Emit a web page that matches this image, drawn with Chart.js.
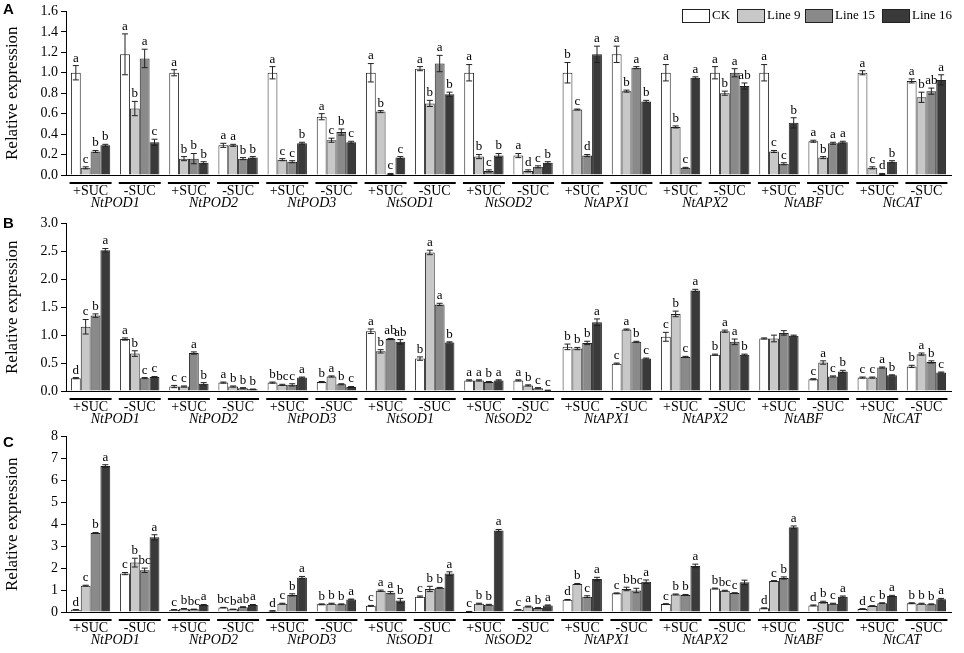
<!DOCTYPE html>
<html><head><meta charset="utf-8">
<script src="https://cdn.jsdelivr.net/npm/chart.js@4"></script>
<style>body{margin:0;background:#fff;width:964px;height:653px;position:relative;overflow:hidden}
canvas{position:absolute;left:0}</style></head><body>
<canvas id="cA" style="top:0"></canvas>
<canvas id="cB" style="top:212px"></canvas>
<canvas id="cC" style="top:425px"></canvas>
<script>
const genes=["NtPOD1","NtPOD2","NtPOD3","NtSOD1","NtSOD2","NtAPX1","NtAPX2","NtABF","NtCAT"];
const treatments=["+SUC","-SUC"];
const categories=[];genes.forEach(g=>treatments.forEach(t=>categories.push(g+" "+t)));
const seriesNames=["CK","Line 9","Line 15","Line 16"];
const colors=["#ffffff","#c8c8c8","#8a8a8a","#3a3a3a"];
// Panel A values, per category: [CK, Line9, Line15, Line16]
const valuesA=[[1.0,0.07,0.23,0.29],[1.18,0.65,1.14,0.32],[1.0,0.16,0.16,0.12],[0.29,0.29,0.16,0.17],
[1.0,0.15,0.13,0.31],[0.57,0.34,0.42,0.32],[1.0,0.62,0.01,0.17],[1.04,0.70,1.09,0.79],
[1.0,0.18,0.04,0.19],[0.19,0.04,0.08,0.12],[1.0,0.64,0.19,1.18],[1.18,0.82,1.05,0.72],
[1.0,0.47,0.07,0.95],[1.0,0.80,1.0,0.87],[1.0,0.23,0.11,0.51],[0.33,0.17,0.31,0.32],
[1.0,0.07,0.01,0.13],[0.92,0.76,0.82,0.93]];
const errA=[[0.07,0.01,0.01,0.01],[0.2,0.07,0.09,0.03],[0.03,0.02,0.05,0.01],[0.02,0.01,0.01,0.01],
[0.06,0.01,0.01,0.01],[0.03,0.02,0.03,0.01],[0.09,0.01,0.005,0.01],[0.02,0.03,0.08,0.02],
[0.08,0.02,0.01,0.02],[0.02,0.01,0.01,0.01],[0.1,0.005,0.01,0.08],[0.08,0.01,0.01,0.01],
[0.08,0.01,0.005,0.01],[0.06,0.02,0.04,0.03],[0.08,0.01,0.01,0.05],[0.01,0.01,0.01,0.01],
[0.02,0.01,0.005,0.01],[0.02,0.05,0.03,0.05]];
const lettersA=[["a","c","b","b"],["a","b","a","c"],["a","b","b","b"],["a","a","b","b"],
["a","c","c","b"],["a","c","b","c"],["a","b","c","c"],["a","b","a","b"],
["a","b","c","b"],["a","d","c","b"],["b","c","d","a"],["a","b","a","b"],
["a","b","c","a"],["a","b","a","ab"],["a","c","c","b"],["a","b","a","a"],
["a","c","d","b"],["a","b","ab","a"]];
const valuesB=[[0.23,1.15,1.35,2.52],[0.93,0.67,0.23,0.25],[0.08,0.08,0.68,0.13],[0.15,0.08,0.05,0.03],
[0.15,0.11,0.11,0.24],[0.16,0.26,0.12,0.07],[1.07,0.71,0.93,0.88],[0.58,2.48,1.55,0.87],
[0.19,0.19,0.16,0.19],[0.19,0.10,0.05,0.01],[0.79,0.76,0.86,1.23],[0.49,1.10,0.88,0.58],
[0.97,1.38,0.61,1.80],[0.65,1.07,0.88,0.65],[0.94,0.94,1.04,0.99],[0.21,0.51,0.26,0.35],
[0.24,0.24,0.42,0.28],[0.44,0.66,0.52,0.33]];
const errB=[[0.01,0.13,0.03,0.03],[0.02,0.05,0.01,0.01],[0.02,0.01,0.02,0.02],[0.01,0.01,0.01,0.005],
[0.01,0.01,0.02,0.01],[0.01,0.01,0.01,0.01],[0.04,0.03,0.01,0.04],[0.03,0.04,0.02,0.01],
[0.01,0.01,0.01,0.01],[0.01,0.01,0.01,0.005],[0.05,0.02,0.03,0.06],[0.01,0.01,0.01,0.01],
[0.08,0.05,0.01,0.02],[0.01,0.02,0.05,0.01],[0.01,0.06,0.04,0.01],[0.01,0.03,0.01,0.02],
[0.01,0.01,0.01,0.01],[0.02,0.02,0.02,0.01]];
const lettersB=[["d","c","b","a"],["a","b","c","c"],["c","c","a","b"],["a","b","b","b"],
["b","bc","c","a"],["b","a","b","c"],["a","b","ab","ab"],["b","a","a","b"],
["a","a","b","a"],["a","b","c","c"],["b","b","b","a"],["c","a","b","c"],
["c","b","c","a"],["b","a","a","b"],["","","",""],["c","a","c","b"],
["c","c","a","b"],["b","a","b","c"]];
const valuesC=[[0.1,1.2,3.6,6.65],[1.75,2.25,1.9,3.4],[0.1,0.15,0.12,0.32],[0.2,0.12,0.22,0.32],
[0.05,0.38,0.78,1.57],[0.35,0.38,0.35,0.57],[0.28,0.97,0.88,0.52],[0.7,1.05,1.1,1.75],
[0.02,0.38,0.33,3.71],[0.1,0.25,0.18,0.3],[0.56,1.28,0.7,1.5],[0.85,1.05,0.98,1.38],
[0.36,0.8,0.78,2.1],[1.07,0.97,0.86,1.35],[0.17,1.41,1.55,3.86],[0.3,0.45,0.38,0.7],
[0.14,0.27,0.4,0.73],[0.4,0.38,0.35,0.58]];
const errC=[[0.01,0.02,0.02,0.06],[0.05,0.2,0.1,0.12],[0.01,0.01,0.01,0.02],[0.01,0.01,0.02,0.02],
[0.01,0.02,0.05,0.05],[0.02,0.02,0.02,0.02],[0.02,0.03,0.05,0.1],[0.03,0.12,0.02,0.08],
[0.005,0.02,0.02,0.05],[0.01,0.02,0.02,0.02],[0.01,0.02,0.04,0.08],[0.02,0.08,0.1,0.08],
[0.02,0.02,0.02,0.08],[0.02,0.02,0.02,0.1],[0.02,0.02,0.05,0.06],[0.02,0.04,0.02,0.03],
[0.01,0.02,0.02,0.03],[0.02,0.02,0.02,0.04]];
const lettersC=[["d","c","b","a"],["c","b","bc","a"],["c","b","bc","a"],["bc","b","ab","a"],
["d","c","b","a"],["b","b","b","a"],["c","a","a","b"],["c","b","b","a"],
["c","b","b","a"],["c","a","b","a"],["d","b","c","a"],["c","b","bc","a"],
["c","b","b","a"],["b","bc","c",""],["d","c","b","a"],["d","b","c","a"],
["d","c","b","a"],["b","b","b","a"]];

const SERIF="'Liberation Serif','DejaVu Serif',serif";
const decor={id:'decor',afterDatasetsDraw(chart,a,opt){
  const ctx=chart.ctx,xs=chart.scales.x,ys=chart.scales.y,ca=chart.chartArea;
  const P=opt.panel;
  ctx.save();ctx.strokeStyle='#222';ctx.lineWidth=1;ctx.fillStyle='#000';
  ctx.font='13px '+SERIF;ctx.textAlign='center';ctx.textBaseline='bottom';
  chart.data.datasets.forEach((ds,di)=>{
    const meta=chart.getDatasetMeta(di);
    meta.data.forEach((bar,ci)=>{
      const v=P.values[ci][di],e=P.err[ci][di];
      const yt=ys.getPixelForValue(v+e),yb=ys.getPixelForValue(Math.max(0,v-e));
      ctx.beginPath();ctx.moveTo(bar.x,yt);ctx.lineTo(bar.x,yb);
      ctx.moveTo(bar.x-3,yt);ctx.lineTo(bar.x+3,yt);ctx.moveTo(bar.x-3,yb);ctx.lineTo(bar.x+3,yb);ctx.stroke();
      const L=P.letters[ci][di];if(L)ctx.fillText(L,bar.x,yt-1);
    });
  });
  ctx.textBaseline='top';ctx.font='14px '+SERIF;
  categories.forEach((c,ci)=>{
    const cx=xs.getPixelForValue(ci);
    ctx.lineWidth=2;ctx.strokeStyle='#000';ctx.beginPath();ctx.moveTo(cx-21,ca.bottom+8);ctx.lineTo(cx+21,ca.bottom+8);ctx.stroke();
    ctx.fillText(treatments[ci%2],cx,ca.bottom+9);
  });
  ctx.font='italic 14px '+SERIF;
  genes.forEach((g,gi)=>{
    const cx=(xs.getPixelForValue(gi*2)+xs.getPixelForValue(gi*2+1))/2;
    ctx.fillText(g,cx,ca.bottom+21);
  });
  ctx.font='bold 15px Arial,"Liberation Sans",sans-serif';ctx.textAlign='left';
  ctx.fillText(opt.tag,3,opt.tagY);
  if(opt.legend){
    const lx=[682,737,805,882];ctx.font='13px '+SERIF;ctx.textBaseline='middle';
    seriesNames.forEach((n,i)=>{ctx.fillStyle=colors[i];ctx.fillRect(lx[i],9,27,13);ctx.lineWidth=1;ctx.strokeStyle='#222';ctx.strokeRect(lx[i]+0.5,9.5,27,13);
      ctx.fillStyle='#000';ctx.fillText(n,lx[i]+30,16);});
  }
  ctx.restore();
}};
function make(id,h,values,err,letters,max,step,dec,padTop,padBot,tag,tagY,legend){
  const cv=document.getElementById(id);cv.style.width='964px';cv.style.height=h+'px';
  return new Chart(cv,{type:'bar',
    data:{labels:categories,datasets:seriesNames.map((n,i)=>({label:n,data:values.map(r=>r[i]),backgroundColor:colors[i],borderColor:'#222',borderWidth:1}))},
    options:{responsive:false,animation:false,devicePixelRatio:1,
      layout:{padding:{top:padTop,bottom:padBot,right:13,left:0}},
      datasets:{bar:{categoryPercentage:0.8,barPercentage:1}},
      plugins:{legend:{display:false},tooltip:{enabled:false},decor:{panel:{values,err,letters},tag,tagY,legend}},
      scales:{
        x:{grid:{display:false},ticks:{display:false},border:{display:true,color:'#000',width:1}},
        y:{min:0,max:max,afterFit(s){s.width=66;},
          ticks:{stepSize:step,color:'#000',font:{family:SERIF,size:14},callback:v=>v.toFixed(dec)},
          grid:{drawOnChartArea:false,tickLength:5,color:'#000'},border:{display:true,color:'#000'},
          title:{display:true,text:'Relative expression',color:'#000',font:{family:SERIF,size:17},padding:2}}}},
    plugins:[decor]});
}
['cA','cB','cC'].forEach((id,i)=>{const c=document.getElementById(id);c.width=964;c.height=[212,213,228][i];});
make('cA',212,valuesA,errA,lettersA,1.6,0.2,1,4,29,'A',2,true);
make('cB',213,valuesB,errB,lettersB,3.0,0.5,1,4,26,'B',4,false);
make('cC',228,valuesC,errC,lettersC,8,1,0,6,33,'C',10,false);
</script></body></html>
